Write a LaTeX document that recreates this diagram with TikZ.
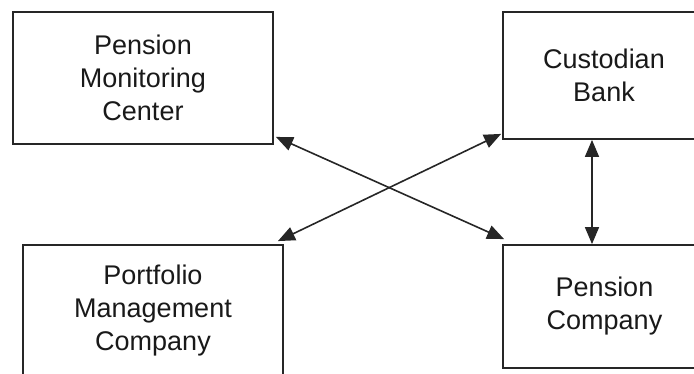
\documentclass[tikz,border=0pt]{standalone}
\usepackage{fontspec}
\setmainfont{Liberation Sans}
\usetikzlibrary{arrows.meta}
\begin{document}
\begin{tikzpicture}[x=1pt,y=-1pt,
  box/.style={draw=black!85, line width=1.8pt, align=center, inner sep=0pt,
    font=\fontsize{27}{33}\selectfont, text=black!90},
  link/.style={line width=1.6pt, draw=black!85,
    {Triangle[length=17pt,width=14pt]}-{Triangle[length=17pt,width=14pt]}}]
\useasboundingbox (0,0) rectangle (694,374);
\clip (0,0) rectangle (694,374);
\node[box, minimum width=260pt, minimum height=132pt] (pmc) at (143,78)
  {Pension\\Monitoring\\Center};
\node[box, minimum width=202pt, minimum height=127pt] (cb) at (604,75.5)
  {Custodian\\Bank};
\node[box, minimum width=260pt, minimum height=132pt] (pfm) at (153,311)
  {Portfolio\\Management\\Company};
\node[box, minimum width=203pt, minimum height=123pt] (pc) at (604.5,306.5)
  {Pension\\Company};
\coordinate (a1) at ([shift={(2,-8)}]pmc.south east);
\coordinate (a2) at ([shift={(2,-5)}]pc.north west);
\coordinate (b1) at ([shift={(-1,-6)}]cb.south west);
\coordinate (b2) at ([shift={(-6,-3)}]pfm.north east);
\draw[link] (a1) -- (a2);
\draw[link] (b1) -- (b2);
\draw[link] (cb.south -| 592,0) -- (pc.north -| 592,0);
\end{tikzpicture}
\end{document}
